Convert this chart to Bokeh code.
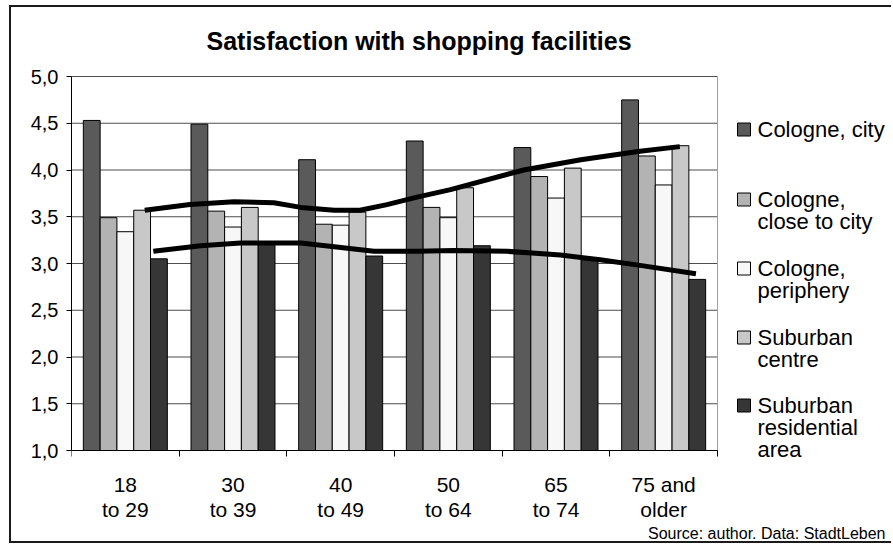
from bokeh.plotting import figure
from bokeh.models import Range1d, FixedTicker, CustomJSTickFormatter
from bokeh.core.properties import value
from bokeh.embed import file_html
from bokeh.resources import INLINE

# ---- data -------------------------------------------------------------
age_groups = ["18\nto 29", "30\nto 39", "40\nto 49", "50\nto 64", "65\nto 74", "75 and\nolder"]

series_labels = [["Cologne, city"], ["Cologne,", "close to city"], ["Cologne,", "periphery"],
                 ["Suburban", "centre"], ["Suburban", "residential", "area"]]

cologne_city = [4.53, 4.49, 4.11, 4.31, 4.24, 4.75]
cologne_close_to_city = [3.49, 3.56, 3.42, 3.60, 3.93, 4.15]
cologne_periphery = [3.34, 3.39, 3.41, 3.49, 3.70, 3.84]
suburban_centre = [3.57, 3.60, 3.55, 3.81, 4.02, 4.26]
suburban_residential = [3.05, 3.21, 3.08, 3.19, 3.04, 2.83]

# hand-drawn trend curves (x in age-group units, 0..6)
upper_trend_x = [0.68, 1.10, 1.51, 1.88, 2.13, 2.44, 2.68, 2.93, 3.21, 3.52, 4.20, 4.73, 5.28, 5.65]
upper_trend_y = [3.57, 3.63, 3.66, 3.65, 3.60, 3.57, 3.57, 3.63, 3.71, 3.79, 4.00, 4.11, 4.20, 4.25]
lower_trend_x = [0.76, 1.20, 1.57, 2.13, 2.44, 2.81, 3.21, 3.55, 4.05, 4.54, 4.91, 5.28, 5.80]
lower_trend_y = [3.13, 3.19, 3.22, 3.22, 3.18, 3.13, 3.13, 3.14, 3.13, 3.09, 3.04, 2.98, 2.89]

y_ticks = [1.0, 1.5, 2.0, 2.5, 3.0, 3.5, 4.0, 4.5, 5.0]

series_values = [cologne_city, cologne_close_to_city, cologne_periphery,
                 suburban_centre, suburban_residential]
series_colors = ["#5a5a5a", "#b3b3b3", "#f7f7f7", "#c8c8c8", "#363636"]

source_note = "Source: author. Data: StadtLeben"
title_text = "Satisfaction with shopping facilities"

# ---- layout (page pixels) --------------------------------------------
PAGE_W = 893
BOX_L, BOX_T, BOX_LINE = 9, 5, 2            # framed box around the chart
OX, OY = BOX_L + BOX_LINE, BOX_T + BOX_LINE  # canvas origin on the page
W, H = PAGE_W - OX, 538
# value area: x = 0..6 spans page x 71..717, y = 1..5 spans page y 450..76
AX_L, AX_R, AX_T, AX_B = 71, 717, 76, 450
N_GROUPS = len(age_groups)
FONT = "Liberation Sans"


def dx(px):
    return (px - AX_L) * N_GROUPS / (AX_R - AX_L)


def dy(py):
    return 1 + (AX_B - py) * 4 / (AX_B - AX_T)


p = figure(width=W, height=H, output_backend="svg", toolbar_location=None,
           x_range=Range1d(0, dx(OX + W)), y_range=Range1d(dy(OY + H), dy(OY)),
           min_border_left=AX_L - OX, min_border_right=0,
           min_border_top=0, min_border_bottom=0,
           background_fill_color="white", border_fill_color="white")
p.outline_line_color = None
p.styles = {
    "margin-left": f"{BOX_L}px",
    "margin-top": f"{BOX_T}px",
    "border-left": f"{BOX_LINE}px solid #1a1a1a",
    "border-top": f"{BOX_LINE}px solid #1a1a1a",
    "border-bottom": f"{BOX_LINE}px solid #1a1a1a",
}

# title
p.text(x=[dx(206)], y=[dy(40)], text=[title_text], text_font=value(FONT),
       text_font_size=value("25px"), text_font_style="bold", text_align="left",
       text_baseline="middle", text_color="black")

# grid lines across the value area only, light border on the right
p.xgrid.visible = False
p.ygrid.visible = False
p.segment(x0=[0] * len(y_ticks), x1=[N_GROUPS] * len(y_ticks), y0=y_ticks, y1=y_ticks,
          line_color="#4d4d4d", line_width=1)
p.segment(x0=[N_GROUPS], x1=[N_GROUPS], y0=[y_ticks[0]], y1=[y_ticks[-1]],
          line_color="#a0a0a0", line_width=1)

# bars
bar_w = 0.156
n_series = len(series_values)
for k, (vals, col) in enumerate(zip(series_values, series_colors)):
    off = (k - (n_series - 1) / 2) * bar_w
    xs = [i + 0.5 + off for i in range(N_GROUPS)]
    p.vbar(x=xs, top=vals, bottom=y_ticks[0], width=bar_w, fill_color=col,
           line_color="black", line_width=1)

# trend curves
p.line(upper_trend_x, upper_trend_y, line_color="black", line_width=5, line_join="round")
p.line(lower_trend_x, lower_trend_y, line_color="black", line_width=5, line_join="round")

# axes
yax = p.yaxis[0]
yax.bounds = (y_ticks[0], y_ticks[-1])
yax.ticker = FixedTicker(ticks=y_ticks)
yax.formatter = CustomJSTickFormatter(code="return tick.toFixed(1).replace('.', ',');")
yax.axis_line_color = "black"
yax.major_tick_line_color = "black"
yax.major_tick_out = 5
yax.major_tick_in = 0
yax.minor_tick_line_color = None
yax.major_label_standoff = 8
yax.major_label_text_font = FONT
yax.major_label_text_font_size = "20px"
yax.major_label_text_color = "black"

xax = p.xaxis[0]
centers = [i + 0.5 for i in range(N_GROUPS)]
xax.fixed_location = y_ticks[0]
xax.bounds = (0, N_GROUPS)
xax.ticker = FixedTicker(ticks=centers, minor_ticks=list(range(N_GROUPS + 1)))
xax.major_label_overrides = {c: lab for c, lab in zip(centers, age_groups)}
xax.axis_line_color = "black"
xax.major_tick_out = 0
xax.major_tick_in = 0
xax.minor_tick_line_color = "black"
xax.minor_tick_out = 6
xax.minor_tick_in = 0
xax.major_label_standoff = 16
xax.major_label_text_font = FONT
xax.major_label_text_font_size = "21px"
xax.major_label_text_line_height = 1.1
xax.major_label_text_color = "black"

# legend: swatch plus one text line per row, entries evenly spaced
legend_first_line = [129, 199, 268, 337, 405]
LINE_STEP = 22
SW = 13
for lines, col, cy in zip(series_labels, series_colors, legend_first_line):
    p.quad(left=[dx(737)], right=[dx(737 + SW)], top=[dy(cy - SW / 2)], bottom=[dy(cy + SW / 2)],
           fill_color=col, line_color="black", line_width=1)
    p.text(x=[dx(757)] * len(lines), y=[dy(cy + LINE_STEP * i) for i in range(len(lines))],
           text=lines, text_font=value(FONT), text_font_size=value("22px"),
           text_align="left", text_baseline="middle", text_color="black")

# source note
p.text(x=[dx(885)], y=[dy(533)], text=[source_note], text_font=value(FONT),
       text_font_size=value("16px"), text_align="right", text_baseline="middle",
       text_color="black")

open("out.html", "w").write(file_html(p, INLINE))
